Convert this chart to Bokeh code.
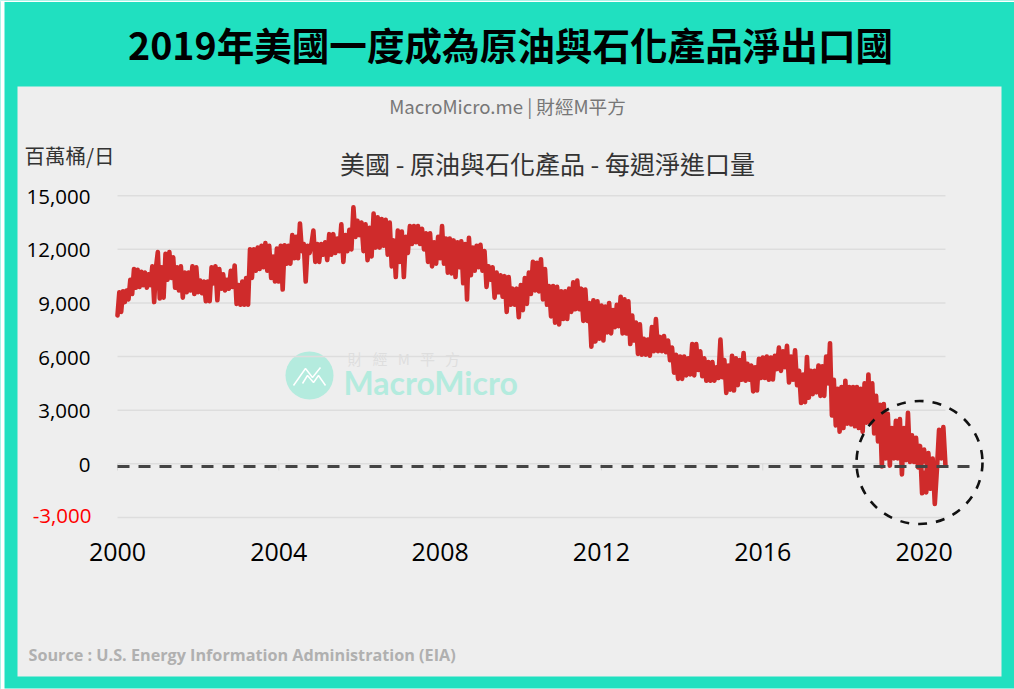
import numpy as np
from bokeh.embed import file_html
from bokeh.resources import INLINE
from bokeh.plotting import figure
from bokeh.models import BoxAnnotation, Label, FixedTicker, Range1d

# ---- data: weekly net imports, thousand barrels/day ----
v2000 = [8300, 9600, 8500, 9650, 9050, 9700, 9200, 10300, 9500, 10900, 9850, 10850, 9900, 10750, 10000, 10700, 9850, 10600, 10000, 11050, 9050, 11000]
v2001 = [11850, 9250, 11000, 9300, 11750, 10300, 11850, 10400, 11550, 9850, 11000, 9700, 11050, 9300, 10700, 9600, 10700, 9700, 11050, 9500, 11000]
v2002 = [9600, 10250, 9550, 10200, 9100, 10200, 9100, 11000, 10100, 11050, 9150, 10900, 9800, 10600, 9700, 10300, 9800, 10800, 9900, 11100, 8950]
v2003 = [10000, 8900, 10200, 8900, 10400, 8900, 12000, 10400, 12000, 10800, 12100, 10900, 12200, 11000, 12350, 10800, 12200, 10400, 11600, 10200, 12050]
v2004 = [10200, 12200, 9750, 12230, 11200, 12200, 11200, 12800, 11500, 12700, 11500, 13450, 11900, 12300, 10200, 12200, 11800, 12300, 13050, 11300, 12300]
v2005 = [11300, 12300, 11700, 12400, 11400, 12850, 11700, 12850, 11800, 12600, 11900, 13400, 11300, 12800, 11900, 13100, 12000, 14350, 12700, 13600]
v2006 = [12800, 13500, 11900, 13400, 11400, 13200, 11600, 14000, 12100, 13800, 12100, 13700, 12200, 13650, 11700, 13500, 11050, 12500, 10450, 13050]
v2007 = [11300, 13000, 10450, 12700, 11800, 13300, 12300, 13300, 12400, 13300, 12300, 13150, 12000, 12900, 11300, 12900, 11050, 12400, 11200, 12700]
v2008 = [11500, 13300, 11200, 12600, 10700, 12600, 10650, 12500, 10450, 12400, 11000, 12450, 10100, 12300, 9200, 12650, 10550, 12100, 10800, 12200, 11000]
v2009 = [12250, 10800, 11900, 9900, 11050, 10300, 11000, 9300, 10700, 9600, 10550, 9350, 10500, 8500, 10450, 8900, 9800, 8900, 9800, 8200]
v2010 = [10000, 8600, 10400, 8950, 10700, 9500, 11300, 9700, 11250, 9650, 11450, 9200, 10900, 8900, 9950, 8250, 9950, 7900, 9900, 7800]
v2011 = [9650, 8100, 9650, 8100, 9800, 8500, 10150, 8650, 10250, 8650, 9800, 8000, 9750, 8000, 9000, 6550, 9150, 6850, 9100, 7000]
v2012 = [8850, 6900, 8800, 7350, 9000, 7300, 8600, 7650, 8900, 7700, 9350, 7300, 9200, 7300, 9100, 6700, 8300, 6900, 7900, 6150, 7800]
v2013 = [6100, 7000, 6100, 6950, 6050, 7650, 6300, 8100, 6300, 7100, 6300, 7150, 6250, 6900, 5800, 6500, 5100, 6100, 4750, 6000]
v2014 = [4750, 6000, 4950, 5900, 5000, 6700, 4950, 6700, 5250, 6300, 4900, 5900, 4650, 5700, 4650, 5700, 4650, 5400, 4800, 6950]
v2015 = [4850, 5800, 3970, 5500, 4150, 6050, 4100, 5900, 4400, 5800, 4700, 6200, 4650, 5600, 4700, 5500, 4050, 5400, 4100, 5870, 4800]
v2016 = [5950, 4800, 6000, 4700, 5950, 4720, 6050, 5300, 6500, 5200, 6300, 5400, 6600, 4550, 6000, 4700, 6350, 4400, 5200, 3400]
v2017 = [5000, 3450, 5980, 3700, 5200, 3900, 5200, 4000, 5500, 3800, 5450, 3800, 6000, 4500, 6750, 2700, 4700, 2150, 4200, 1800, 4300]
v2018 = [2000, 4650, 2250, 4300, 2200, 4300, 2100, 4300, 2000, 4200, 1800, 4500, 2300, 5000, 2300, 4500, 1700, 3800, 1250, 3300, -150]
v2019 = [3350, 300, 2800, -100, 2000, 300, 2400, 300, 2500, -600, 2000, 200, 2850, 100, 1600, 100, 1450, -200, 1000, -1650]
v2020 = [800, -1600, 600, -1400, 300, -2250, -300, 1900, 300, 2050, -100]
last_date = 2020.53

series_years = list(range(2000, 2021))
series_values = [v2000, v2001, v2002, v2003, v2004, v2005, v2006, v2007, v2008, v2009, v2010,
                 v2011, v2012, v2013, v2014, v2015, v2016, v2017, v2018, v2019, v2020]
x_ticks = [2000, 2004, 2008, 2012, 2016, 2020]
y_ticks = [-3000, 0, 3000, 6000, 9000, 12000, 15000]

TITLE = "2019年美國一度成為原油與石化產品淨出口國"
BRAND = "MacroMicro.me | 財經M平方"
CHART_TITLE = "美國 - 原油與石化產品 - 每週淨進口量"
UNIT = "百萬桶/日"
SOURCE = "Source : U.S. Energy Information Administration (EIA)"

TEAL = "#20e0c0"
PANEL = "#eeeeee"
WM = "#b4ebde"
CJK = "Noto Sans CJK TC"
LATIN = "Open Sans"

# screen-pixel geometry (reference coordinates) used only for layout
def X(px):
    return 2000 + (px - 117) / 40.33

def Y(py):
    return (463.3 - py) / 17.87 * 1000

W, H = 1014, 689

p = figure(width=W, height=H, output_backend="svg", toolbar_location=None,
           x_range=Range1d(X(0), X(W)), y_range=Range1d(Y(H), Y(0)),
           min_border_left=0, min_border_right=0, min_border_top=0, min_border_bottom=0,
           border_fill_color=TEAL, background_fill_color=TEAL,
           x_axis_location="below", y_axis_location="left")
p.outline_line_color = None
for l, r, t, b in [(0, 4, 0, H), (0, W, 0, 1.5), (0, W, 688, H)]:
    p.add_layout(BoxAnnotation(left=X(l), right=X(r), top=Y(t), bottom=Y(b),
                               fill_color="#ffffff", fill_alpha=1, line_color=None, level="underlay"))
p.add_layout(BoxAnnotation(left=X(17), right=X(1001), top=Y(86), bottom=Y(676),
                           fill_color=PANEL, fill_alpha=1, line_color=None, level="underlay"))

# axes
p.xaxis.fixed_location = Y(532)
p.xaxis.ticker = FixedTicker(ticks=x_ticks)
p.xaxis.major_label_overrides = {t: str(t) for t in x_ticks}
p.xaxis.axis_line_color = None
p.xaxis.major_tick_line_color = None
p.xaxis.minor_tick_line_color = None
p.xaxis.major_label_standoff = 4
p.xaxis.major_label_text_font = LATIN
p.xaxis.major_label_text_font_size = "25px"
p.xaxis.major_label_text_color = "#000000"

p.yaxis.fixed_location = X(117)
p.yaxis.ticker = FixedTicker(ticks=y_ticks)
p.yaxis.major_label_overrides = {t: (f"{t:,}" if t != -3000 else " ") for t in y_ticks}
p.yaxis.axis_line_color = None
p.yaxis.major_tick_line_color = None
p.yaxis.minor_tick_line_color = None
p.yaxis.major_label_standoff = 21
p.yaxis.major_label_text_font = LATIN
p.yaxis.major_label_text_font_size = "20.5px"
p.yaxis.major_label_text_color = "#000000"

p.xgrid.visible = False
p.ygrid.visible = False

# watermark
p.scatter([X(309)], [Y(375)], size=48, marker="circle", fill_color=WM, line_color=None)
p.line([X(v) for v in (293, 305, 312, 320)], [Y(v) for v in (385, 368, 377, 367)], line_color="#ffffff", line_width=1.5)
p.line([X(v) for v in (302, 307, 313, 318, 325)], [Y(v) for v in (383, 375, 382, 375, 385)], line_color="#ffffff", line_width=1.5)

def label(text, px, py, size, color, font=CJK, align="left", style="normal", baseline="middle"):
    p.add_layout(Label(x=X(px), y=Y(py), text=text, text_font=font, text_font_size=f"{size}px",
                       text_color=color, text_align=align, text_baseline=baseline, text_font_style=style))

label("財\u00a0\u00a0\u00a0經\u00a0\u00a0\u00a0M\u00a0\u00a0\u00a0平\u00a0\u00a0\u00a0方", 347, 358, 15, "#dedede")
label("MacroMicro", 343, 382, 32, WM, font="Lato", style="bold")

# horizontal grid rules, limited to the span of the data
p.segment([2000] * len(y_ticks), y_ticks, [last_date] * len(y_ticks), y_ticks,
          line_color="#dddddd", line_width=1.5)

# series
xs, ys = [], []
for yr, vals in zip(series_years, series_values):
    end = yr + 1 if yr < 2020 else last_date
    xs.extend(np.linspace(yr, end, len(vals), endpoint=yr == 2020))
    ys.extend(vals)
p.line(xs, ys, line_color="#cf2b2b", line_width=4.6, line_join="round", line_cap="round")

# axis ticks on the zero line
p.segment(x_ticks, [0] * len(x_ticks), x_ticks, [Y(470)] * len(x_ticks), line_color="#d8d8d8", line_width=1)

# annotations drawn over the chart
p.line([X(117), X(970)], [Y(466), Y(466)], line_color="#444444", line_width=3, line_dash="12 9")
p.ellipse([X(919)], [Y(462)], width=126, height=123, width_units="screen", height_units="screen",
          fill_color=None, line_color="#111111", line_width=2.6, line_dash="9 9")

# texts
label(TITLE, 510, 43, 37.6, "#000000", align="center", style="bold")
label(BRAND, 507, 105, 18.6, "#777777", align="center")
label(CHART_TITLE, 547, 162, 25, "#333333", align="center")
label(UNIT, 24, 154, 20.5, "#333333")
label("-3,000", 91, 515, 20.5, "#ff0000", font=LATIN, align="right")
label(SOURCE, 28, 654, 16.2, "#b0b0b0", font=LATIN, style="bold")

open("out.html", "w").write(file_html(p, INLINE))
